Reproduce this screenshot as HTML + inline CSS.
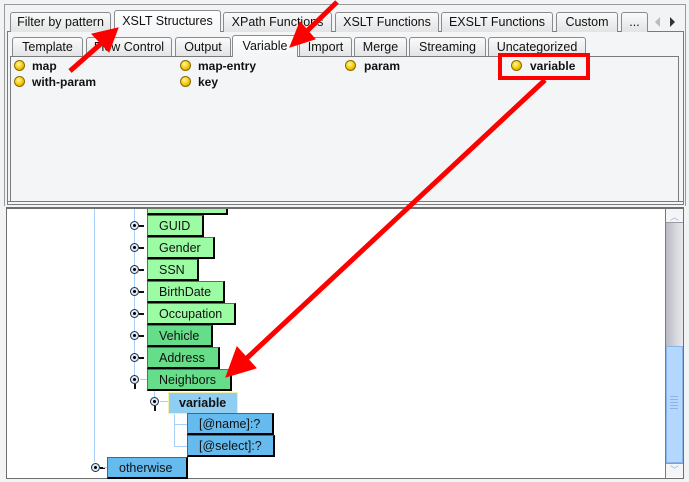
<!DOCTYPE html>
<html><head><meta charset="utf-8">
<style>
*{margin:0;padding:0;box-sizing:border-box}
body{width:689px;height:482px;background:#f2f3f5;position:relative;overflow:hidden;font-family:"Liberation Sans",Arial,sans-serif;font-size:12px;color:#111}
.a{position:absolute}
.tab{position:absolute;height:20px;border:1px solid #8a8b8c;border-bottom:none;border-radius:3px 3px 0 0;background:linear-gradient(#fafafa,#e2e3e5);text-align:center;line-height:19px;font-size:12.5px;color:#111;white-space:nowrap;overflow:hidden}
.tab.sel{background:linear-gradient(#ffffff,#f4f5f7);height:22px;line-height:21px;z-index:2}
.it{position:absolute;font-weight:bold;font-size:12px;line-height:14px}
.bul{position:absolute;width:11px;height:11px;border-radius:50%;background:radial-gradient(circle at 40% 35%,#fff7a0,#f5c800 55%,#b38a00);border:1px solid #8a6a00}
.node{position:absolute;height:22px;line-height:21px;padding-left:11px;font-size:12.5px;border-top:1px solid #3f7f50;border-left:1px solid #3f7f50;border-right:2px solid #000;border-bottom:2px solid #000;white-space:nowrap;overflow:visible}
.lg{background:#9cfca4}
.dg{background:#66dd88}
.bl{background:#66bbee;border-top-color:#2f6f95;border-left-color:#2f6f95}
.ln{position:absolute;background:#a8d0f8}
.ic{position:absolute;width:9px;height:9px;border-radius:50%;border:1px solid #203040;background:#dfe9f5}
.ic::after{content:"";position:absolute;left:2px;top:2px;width:3px;height:3px;border-radius:50%;background:#000}
.dash{position:absolute;height:2px;width:5px;background:#111}
.stem{position:absolute;width:2px;height:5px;background:#111}
</style></head><body>

<!-- outer frame lines -->
<div class="a" style="left:4px;top:4px;width:682px;height:202px;border:1px solid #9a9a9a;border-bottom:none"></div>
<div class="a" style="left:7px;top:31px;width:677px;height:174px;border:1px solid #7a7a7a;background:#f4f5f7"></div>
<div class="a" style="left:7px;top:31px;width:677px;height:171px;border-bottom:1px solid #7a7a7a"></div>

<!-- top tabs -->
<div class="tab" style="left:10px;top:12px;width:101px">Filter by pattern</div>
<div class="tab sel" style="left:114px;top:10px;width:107px">XSLT Structures</div>
<div class="tab" style="left:223px;top:12px;width:109px">XPath Functions</div>
<div class="tab" style="left:335px;top:12px;width:104px">XSLT Functions</div>
<div class="tab" style="left:441px;top:12px;width:112px">EXSLT Functions</div>
<div class="tab" style="left:556px;top:12px;width:62px">Custom</div>
<div class="tab" style="left:621px;top:12px;width:27px">...</div>
<div class="a" style="left:655px;top:17px;width:0;height:0;border-top:5px solid transparent;border-bottom:5px solid transparent;border-right:5px solid #b8bcc2"></div>
<div class="a" style="left:670px;top:17px;width:0;height:0;border-top:5px solid transparent;border-bottom:5px solid transparent;border-left:5px solid #333"></div>

<!-- inner tabs -->
<div class="tab" style="left:12px;top:37px;width:71px">Template</div>
<div class="tab" style="left:86px;top:37px;width:86px">Flow Control</div>
<div class="tab" style="left:175px;top:37px;width:56px">Output</div>
<div class="tab sel" style="left:232px;top:35px;width:66px">Variable</div>
<div class="tab" style="left:299px;top:37px;width:53px">Import</div>
<div class="tab" style="left:354px;top:37px;width:53px">Merge</div>
<div class="tab" style="left:409px;top:37px;width:77px">Streaming</div>
<div class="tab" style="left:488px;top:37px;width:98px">Uncategorized</div>

<!-- content panel -->
<div class="a" style="left:10px;top:56px;width:669px;height:146px;border:1px solid #7a7a7a;background:#f4f5f7"></div>

<div class="bul" style="left:14px;top:60px"></div><div class="it" style="left:32px;top:59px">map</div>
<div class="bul" style="left:14px;top:76px"></div><div class="it" style="left:32px;top:75px">with-param</div>
<div class="bul" style="left:180px;top:60px"></div><div class="it" style="left:198px;top:59px">map-entry</div>
<div class="bul" style="left:180px;top:76px"></div><div class="it" style="left:198px;top:75px">key</div>
<div class="bul" style="left:345px;top:60px"></div><div class="it" style="left:364px;top:59px">param</div>
<div class="bul" style="left:511px;top:60px"></div><div class="it" style="left:530px;top:59px">variable</div>

<!-- tree panel -->
<div class="a" style="left:6px;top:207px;width:678px;height:272px;border:1px solid #6e6e6e;border-top:2px solid #6e6e6e;background:#fff;overflow:hidden">
</div>

<!-- connector lines -->
<div class="ln" style="left:94px;top:209px;width:1px;height:253px"></div>
<div class="ln" style="left:134px;top:209px;width:1px;height:166px"></div>
<div class="ln" style="left:154px;top:390px;width:1px;height:7px"></div>
<div class="ln" style="left:174px;top:413px;width:1px;height:33px"></div>
<div class="ln" style="left:174px;top:424px;width:13px;height:1px"></div>
<div class="ln" style="left:174px;top:446px;width:13px;height:1px"></div>

<!-- partial top node -->
<div class="a" style="left:147px;top:209px;width:81px;height:6px;background:#9cfca4;border-left:1px solid #3f7f50;border-right:2px solid #000;border-bottom:2px solid #000"></div>

<!-- rows -->
<div class="ic" style="left:130px;top:221px"></div><div class="dash" style="left:139px;top:225px"></div><div class="node lg" style="left:147px;top:215px;width:57px">GUID</div>
<div class="ic" style="left:130px;top:243px"></div><div class="dash" style="left:139px;top:247px"></div><div class="node lg" style="left:147px;top:237px;width:68px">Gender</div>
<div class="ic" style="left:130px;top:265px"></div><div class="dash" style="left:139px;top:269px"></div><div class="node lg" style="left:147px;top:259px;width:52px">SSN</div>
<div class="ic" style="left:130px;top:287px"></div><div class="dash" style="left:139px;top:291px"></div><div class="node lg" style="left:147px;top:281px;width:78px">BirthDate</div>
<div class="ic" style="left:130px;top:309px"></div><div class="dash" style="left:139px;top:313px"></div><div class="node lg" style="left:147px;top:303px;width:89px">Occupation</div>
<div class="ic" style="left:130px;top:331px"></div><div class="dash" style="left:139px;top:335px"></div><div class="node dg" style="left:147px;top:325px;width:66px">Vehicle</div>
<div class="ic" style="left:130px;top:353px"></div><div class="dash" style="left:139px;top:357px"></div><div class="node dg" style="left:147px;top:347px;width:73px">Address</div>
<div class="ic" style="left:130px;top:375px"></div><div class="stem" style="left:134px;top:384px"></div><div class="ln" style="left:140px;top:379px;width:7px;height:1px"></div><div class="node dg" style="left:147px;top:369px;width:85px">Neighbors</div>

<div class="ic" style="left:150px;top:397px"></div><div class="stem" style="left:154px;top:406px"></div><div class="ln" style="left:160px;top:401px;width:8px;height:1px"></div>
<div class="a" style="left:168px;top:392px;width:70px;height:22px;background:#8fcdf2;border:1px solid #f4f0a8;font-weight:bold;font-size:12.5px;line-height:20px;padding-left:10px">variable</div>

<div class="node bl" style="left:187px;top:413px;width:87px">[@name]:?</div>
<div class="node bl" style="left:187px;top:435px;width:88px">[@select]:?</div>

<div class="ic" style="left:91px;top:463px"></div><div class="dash" style="left:100px;top:467px"></div><div class="ln" style="left:103px;top:467px;width:4px;height:1px"></div>
<div class="node bl" style="left:107px;top:457px;width:81px">otherwise</div>

<!-- scrollbar -->
<div class="a" style="left:665px;top:209px;width:18px;height:269px;border-left:1px solid #7a7a7a;background:#fff"></div>
<div class="a" style="left:666px;top:209px;width:17px;height:14px;background:#f4f5f7;border-bottom:1px solid #9a9a9a"></div>
<div class="a" style="left:670px;top:213px;font-size:9px;color:#8ab4e8;line-height:9px">︿</div>
<div class="a" style="left:666px;top:223px;width:17px;height:123px;background:linear-gradient(90deg,#b8b9c2,#d8d9de 60%,#e8e8ec)"></div>
<div class="a" style="left:666px;top:346px;width:17px;height:117px;background:#b3d7ff;border:1px solid #8ab4e8"></div>
<div class="a" style="left:670px;top:396px;width:8px;height:1px;background:#8ab4e8;box-shadow:0 3px 0 #8ab4e8,0 6px 0 #8ab4e8,0 9px 0 #8ab4e8,0 12px 0 #8ab4e8"></div>
<div class="a" style="left:666px;top:463px;width:17px;height:14px;background:#f4f5f7;border-top:1px solid #9a9a9a"></div>
<div class="a" style="left:670px;top:466px;font-size:9px;color:#8ab4e8;line-height:9px">﹀</div>

<!-- red annotations -->
<svg class="a" style="left:0;top:0;z-index:10" width="689" height="482" viewBox="0 0 689 482">
<g fill="#ff0000" stroke="#ff0000">
<line x1="70" y1="71" x2="104" y2="41" stroke-width="5"/>
<polygon points="118,28 109,52 92,34" stroke-width="1"/>
<line x1="337" y1="2" x2="306" y2="32" stroke-width="5"/>
<polygon points="290,47 315,39 300,22" stroke-width="1"/>
<line x1="545" y1="80" x2="247" y2="358" stroke-width="5"/>
<polygon points="226,377 256,368 237,347" stroke-width="1"/>
</g>
<rect x="500" y="55" width="88" height="23" fill="none" stroke="#ff0000" stroke-width="4"/>
</svg>
</body></html>
